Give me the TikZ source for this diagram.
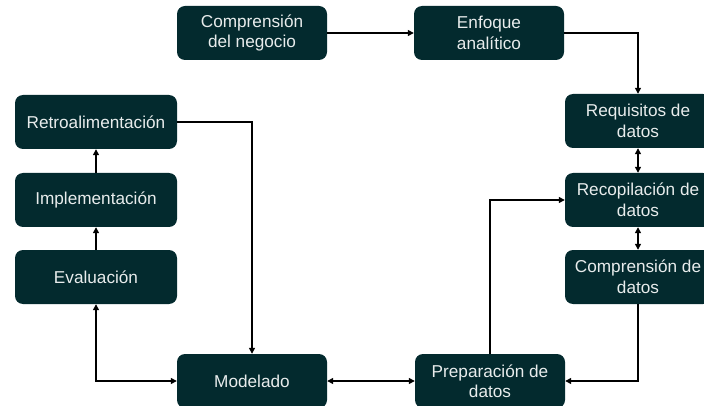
\documentclass[tikz,border=0pt]{standalone}
\usepackage{fontspec}
\setmainfont{Liberation Sans}
\usetikzlibrary{arrows.meta}
\definecolor{boxfill}{HTML}{032A2E}
\definecolor{boxtext}{HTML}{E8ECEC}
\begin{document}
\begin{tikzpicture}[x=1pt,y=-1pt,
  stage/.style={draw=none, fill=boxfill, rounded corners=8pt, text=boxtext,
    align=center, inner sep=2pt, minimum height=54pt,
    font=\fontsize{17.2}{20.5}\selectfont},
  wide/.style={stage, minimum width=150pt},
  side/.style={stage, minimum width=162pt},
  link/.style={line width=1.3pt, draw=black},
  tip/.style={-{Triangle[length=6pt,width=6pt]}},
  tips/.style={{Triangle[length=6pt,width=6pt]}-{Triangle[length=6pt,width=6pt]}}]
\useasboundingbox (0,0) rectangle (704,406);

% top row
\node[wide] (cn) at (252,33) {Comprensión\\del negocio};
\node[wide] (ea) at (489,33) {Enfoque\\analítico};

% right column
\node[stage, minimum width=146pt] (rd) at (638,121) {Requisitos de\\datos};
\node[stage, minimum width=146pt] (rc) at (638,200) {Recopilación de\\datos};
\node[stage, minimum width=146pt] (cd) at (638,277) {Comprensión de\\datos};

% bottom row
\node[wide] (md) at (252,381) {Modelado};
\node[wide] (pd) at (490,381) {Preparación de\\datos};

% left column
\node[side] (rt) at (96,122) {Retroalimentación};
\node[side] (im) at (96,200) {Implementación};
\node[side] (ev) at (96,277) {Evaluación};

% connectors
\draw[link, tip] (cn.east) -- (ea.west);
\draw[link, tip] (ea.east) -| (rd.north);
\draw[link, tips] (rd.south) -- (rc.north);
\draw[link, tips] (rc.south) -- (cd.north);
\draw[link, tip] (cd.south) |- (pd.east);
\draw[link, tip] (pd.north) |- (rc.west);
\draw[link, tips] (md.east) -- (pd.west);
\draw[link, tip] (rt.east) -| (md.north);
\draw[link, tips] (ev.south) |- (md.west);
\draw[link, tip] (ev.north) -- (im.south);
\draw[link, tip] (im.north) -- (rt.south);
\end{tikzpicture}
\end{document}
